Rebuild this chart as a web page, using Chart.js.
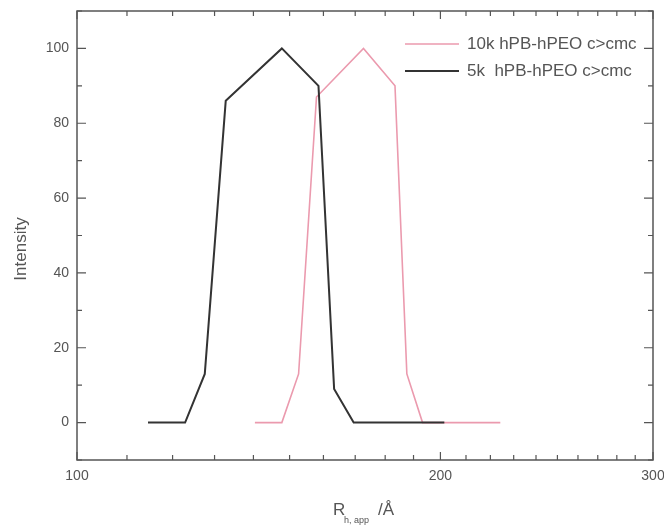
<!DOCTYPE html>
<html>
<head>
<meta charset="utf-8">
<script src="https://cdn.jsdelivr.net/npm/chart.js@4/dist/chart.umd.min.js"></script>
<style>
  body { margin: 0; background: #fff; }
</style>
</head>
<body>
<canvas id="dlsChart" width="664" height="529"></canvas>
<script>
// hydrodynamic radius (A) vs intensity
var radius5k = [114.5, 122.9, 127.6, 132.8, 147.8, 158.5, 163.3, 169.5, 201.5];
var intensity5k = [0, 0, 13, 86, 100, 90, 9, 0, 0];
var radius10k = [140.4, 147.8, 152.6, 157.9, 172.7, 183.4, 187.6, 193.3, 224.2];
var intensity10k = [0, 0, 13, 87, 100, 90, 13, 0, 0];

var xTickValues = [100, 110, 120, 130, 140, 150, 160, 170, 180, 190, 200, 210, 220, 230, 240, 250, 260, 270, 280, 290, 300];
var xTickLabels = [100, 200, 300];
var yTickLabels = [0, 20, 40, 60, 80, 100];

var FONT = "'Liberation Sans', Arial, sans-serif";
var INK = "#555";

function toPoints(xs, ys) {
    return xs.map(function (x, i) { return { x: x, y: ys[i] }; });
}

var datum5k = {
    label: "5k  hPB-hPEO c>cmc",
    data: toPoints(radius5k, intensity5k),
    borderColor: "#333",
    borderWidth: 2,
    pointRadius: 0,
    tension: 0,
    fill: false,
    order: 0
};

var datum10k = {
    label: "10k hPB-hPEO c>cmc",
    data: toPoints(radius10k, intensity10k),
    borderColor: "#eb9aae",
    borderWidth: 1.6,
    pointRadius: 0,
    tension: 0,
    fill: false,
    order: 1
};

// frame, inward ticks on all four sides, legend and axis titles
var framePlugin = {
    id: "frame",
    afterDatasetsDraw: function (chart) {
        var ctx = chart.ctx, a = chart.chartArea;
        var xs = chart.scales.x, ys = chart.scales.y;
        ctx.save();
        ctx.strokeStyle = INK;
        ctx.lineWidth = 1.5;
        ctx.strokeRect(a.left, a.top, a.right - a.left, a.bottom - a.top);

        ctx.lineWidth = 1.2;
        ctx.beginPath();
        xTickValues.forEach(function (v) {
            var px = xs.getPixelForValue(v);
            var len = xTickLabels.indexOf(v) >= 0 ? 8 : 5;
            ctx.moveTo(px, a.bottom); ctx.lineTo(px, a.bottom - len);
            ctx.moveTo(px, a.top); ctx.lineTo(px, a.top + len);
        });
        for (var v = -10; v <= 110; v += 10) {
            var py = ys.getPixelForValue(v);
            var len = yTickLabels.indexOf(v) >= 0 ? 9 : 5;
            ctx.moveTo(a.left, py); ctx.lineTo(a.left + len, py);
            ctx.moveTo(a.right, py); ctx.lineTo(a.right - len, py);
        }
        ctx.stroke();

        // legend (10k listed first)
        var rows = [datum10k, datum5k];
        ctx.font = "17px " + FONT;
        ctx.textBaseline = "middle";
        ctx.textAlign = "left";
        rows.forEach(function (d, i) {
            var y = 44 + i * 27;
            ctx.strokeStyle = d.borderColor;
            ctx.lineWidth = d.borderWidth;
            ctx.beginPath();
            ctx.moveTo(405, y); ctx.lineTo(459, y);
            ctx.stroke();
            ctx.fillStyle = INK;
            ctx.fillText(d.label, 467, y);
        });

        // y title
        ctx.fillStyle = INK;
        ctx.save();
        ctx.translate(21, 249);
        ctx.rotate(-Math.PI / 2);
        ctx.textAlign = "center";
        ctx.font = "17px " + FONT;
        ctx.fillText("Intensity", 0, 0);
        ctx.restore();

        // x title: R with subscript h, app, then /Å
        ctx.textAlign = "left";
        ctx.font = "17px " + FONT;
        ctx.fillText("R", 333, 510);
        ctx.font = "9px " + FONT;
        ctx.fillText("h, app", 344, 521);
        ctx.font = "17px " + FONT;
        ctx.fillText("/Å", 378, 510);
        ctx.restore();
    }
};

var ctxChart = document.getElementById("dlsChart");

var myLineChart = new Chart(ctxChart, {
    type: "line",
    data: { datasets: [datum5k, datum10k] },
    options: {
        responsive: false,
        animation: false,
        layout: { padding: { top: 11, right: 11, left: 0, bottom: 0 } },
        plugins: { legend: { display: false }, tooltip: { enabled: false } },
        scales: {
            x: {
                type: "logarithmic",
                min: 100,
                max: 300,
                grid: { display: false, drawTicks: false },
                border: { display: false },
                afterBuildTicks: function (scale) {
                    scale.ticks = xTickValues.map(function (v) { return { value: v }; });
                },
                afterFit: function (scale) {
                    scale.height = 69;
                    scale.paddingLeft = 0;
                    scale.paddingRight = 0;
                },
                ticks: {
                    autoSkip: false,
                    maxRotation: 0,
                    padding: 8,
                    color: INK,
                    font: { size: 14, family: FONT },
                    callback: function (value) {
                        return xTickLabels.indexOf(value) >= 0 ? String(value) : "";
                    }
                }
            },
            y: {
                min: -10,
                max: 110,
                grid: { display: false, drawTicks: false },
                border: { display: false },
                afterFit: function (scale) {
                    scale.width = 77;
                    scale.paddingTop = 0;
                    scale.paddingBottom = 0;
                },
                ticks: {
                    stepSize: 10,
                    autoSkip: false,
                    padding: 8,
                    color: INK,
                    font: { size: 14, family: FONT },
                    callback: function (value) {
                        return yTickLabels.indexOf(value) >= 0 ? String(value) : "";
                    }
                }
            }
        }
    },
    plugins: [framePlugin]
});
</script>
</body>
</html>
